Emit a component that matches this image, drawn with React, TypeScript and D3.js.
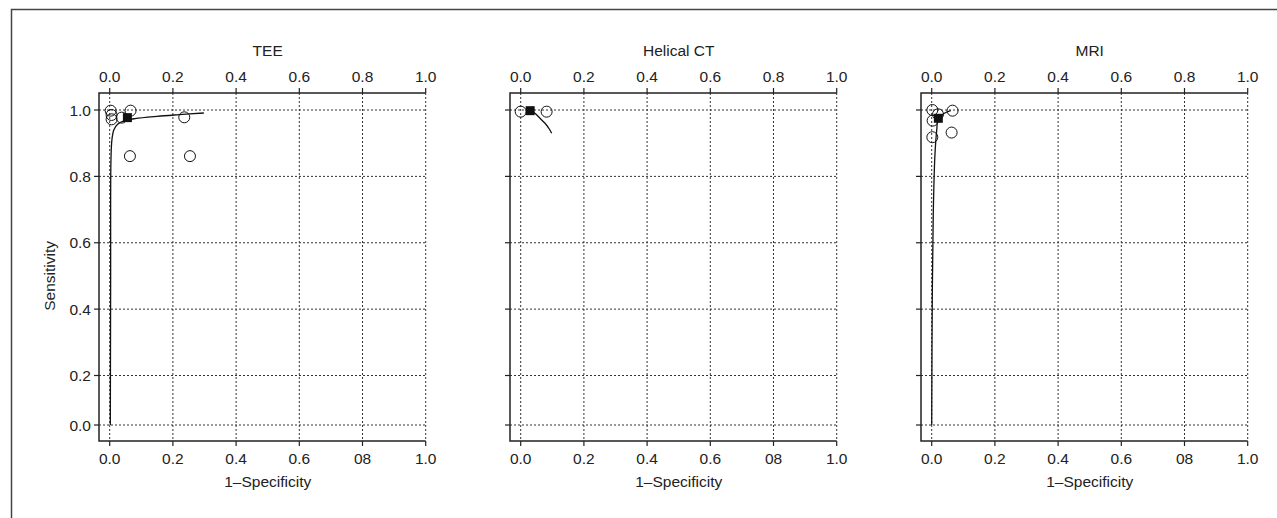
import { useRef, useEffect } from 'react';
import * as d3 from 'd3';

// panels
const panelTitles = ['TEE', 'Helical CT', 'MRI'];

// tick labels (the original bottom axis prints "08")
const tickValues = [0, 0.2, 0.4, 0.6, 0.8, 1.0];
const topTickLabels = ['0.0', '0.2', '0.4', '0.6', '0.8', '1.0'];
const bottomTickLabels = ['0.0', '0.2', '0.4', '0.6', '08', '1.0'];
const yTickLabels = ['0.0', '0.2', '0.4', '0.6', '0.8', '1.0'];

// study points [1-specificity, sensitivity]
const teeStudies = [
  [0.003, 0.998], [0.006, 0.985], [0.006, 0.972], [0.038, 0.977],
  [0.066, 0.998], [0.236, 0.978], [0.064, 0.861], [0.254, 0.861],
];
const ctStudies = [[0.0, 0.995], [0.082, 0.995]];
const mriStudies = [
  [0.002, 1.0], [0.066, 0.998], [0.003, 0.968], [0.002, 0.918],
  [0.063, 0.932], [0.02, 0.987],
];

// summary points
const teeSummary = [0.056, 0.977];
const ctSummary = [0.03, 0.998];
const mriSummary = [0.021, 0.975];

// SROC curves
const teeCurve = [
  [0.002, 0.0], [0.003, 0.5], [0.004, 0.85], [0.007, 0.91], [0.013, 0.94],
  [0.025, 0.957], [0.045, 0.967], [0.08, 0.974], [0.15, 0.981],
  [0.22, 0.986], [0.298, 0.991],
];
const ctCurve = [
  [0.03, 0.998], [0.045, 0.99], [0.061, 0.975], [0.077, 0.96],
  [0.091, 0.942], [0.098, 0.93],
];
const mriCurve = [
  [0.0, 0.0], [0.002, 0.46], [0.005, 0.69], [0.01, 0.86], [0.016, 0.94],
  [0.021, 0.975], [0.04, 0.99], [0.06, 0.998],
];

const panels = [
  { title: panelTitles[0], studies: teeStudies, summary: teeSummary, curve: teeCurve },
  { title: panelTitles[1], studies: ctStudies, summary: ctSummary, curve: ctCurve },
  { title: panelTitles[2], studies: mriStudies, summary: mriSummary, curve: mriCurve },
];

const FONT = '"Liberation Sans", Arial, sans-serif';

export default function App() {
  const ref = useRef<SVGSVGElement>(null);

  useEffect(() => {
    const width = 1277;
    const height = 518;
    const svg = d3.select(ref.current);
    svg.selectAll('*').remove();
    svg.attr('width', width).attr('height', height);

    // outer frame (top + left only)
    svg.append('path')
      .attr('d', `M11.5,${height} L11.5,9.5 L${width},9.5`)
      .attr('fill', 'none')
      .attr('stroke', '#444')
      .attr('stroke-width', 1.5);

    const boxTop = 93;
    const boxBottom = 441;
    // the printed y axis is slightly compressed below 0.2
    const y = d3.scaleLinear().domain([0, 0.2, 1]).range([425, 375.5, 110]);

    panels.forEach((p, i) => {
      const x0 = 109.7 + i * 411;
      const x = d3.scaleLinear().domain([0, 1]).range([x0, x0 + 316]);
      const boxLeft = x0 - 10.7;
      const g = svg.append('g');

      // grid
      g.selectAll('line.vgrid')
        .data(tickValues)
        .join('line')
        .attr('class', 'vgrid')
        .attr('x1', (d) => x(d)).attr('x2', (d) => x(d))
        .attr('y1', boxTop).attr('y2', boxBottom)
        .attr('stroke', '#333').attr('stroke-width', 1)
        .attr('stroke-dasharray', '2,2');
      g.selectAll('line.hgrid')
        .data(tickValues)
        .join('line')
        .attr('class', 'hgrid')
        .attr('x1', boxLeft).attr('x2', x(1))
        .attr('y1', (d) => y(d)).attr('y2', (d) => y(d))
        .attr('stroke', '#333').attr('stroke-width', 1)
        .attr('stroke-dasharray', '2,2');

      // box: left, top and bottom
      g.append('path')
        .attr('d', `M${x(1)},${boxTop} L${boxLeft},${boxTop} L${boxLeft},${boxBottom} L${x(1)},${boxBottom}`)
        .attr('fill', 'none')
        .attr('stroke', '#222')
        .attr('stroke-width', 1.5);

      // ticks
      g.selectAll('line.ttick')
        .data(tickValues)
        .join('line')
        .attr('class', 'ttick')
        .attr('x1', (d) => x(d)).attr('x2', (d) => x(d))
        .attr('y1', boxTop - 5).attr('y2', boxTop)
        .attr('stroke', '#222').attr('stroke-width', 1.2);
      g.selectAll('line.btick')
        .data(tickValues)
        .join('line')
        .attr('class', 'btick')
        .attr('x1', (d) => x(d)).attr('x2', (d) => x(d))
        .attr('y1', boxBottom).attr('y2', boxBottom + 5)
        .attr('stroke', '#222').attr('stroke-width', 1.2);
      g.selectAll('line.ytick')
        .data(tickValues)
        .join('line')
        .attr('class', 'ytick')
        .attr('x1', boxLeft - 5).attr('x2', boxLeft)
        .attr('y1', (d) => y(d)).attr('y2', (d) => y(d))
        .attr('stroke', '#222').attr('stroke-width', 1.2);

      const txt = (sel) => sel.attr('font-family', FONT).attr('font-size', 15.5).attr('fill', '#222');

      g.selectAll('text.tlab')
        .data(tickValues)
        .join('text')
        .attr('class', 'tlab')
        .attr('x', (d) => x(d)).attr('y', 81.5)
        .attr('text-anchor', 'middle')
        .text((_, k) => topTickLabels[k])
        .call(txt);
      g.selectAll('text.blab')
        .data(tickValues)
        .join('text')
        .attr('class', 'blab')
        .attr('x', (d) => x(d)).attr('y', 463.5)
        .attr('text-anchor', 'middle')
        .text((_, k) => bottomTickLabels[k])
        .call(txt);

      if (i === 0) {
        g.selectAll('text.ylab')
          .data(tickValues)
          .join('text')
          .attr('class', 'ylab')
          .attr('x', boxLeft - 8).attr('y', (d) => y(d))
          .attr('dy', '0.36em')
          .attr('text-anchor', 'end')
          .text((_, k) => yTickLabels[k])
          .call(txt);
        g.append('text')
          .attr('transform', `translate(55,${y(0.5)}) rotate(-90)`)
          .attr('text-anchor', 'middle')
          .text('Sensitivity')
          .call(txt);
      }

      g.append('text')
        .attr('x', x(0.5)).attr('y', 55.5)
        .attr('text-anchor', 'middle')
        .text(p.title)
        .call(txt);
      g.append('text')
        .attr('x', x(0.5)).attr('y', 486.5)
        .attr('text-anchor', 'middle')
        .text('1\u2013Specificity')
        .call(txt);

      // SROC curve
      const line = d3.line().x((d) => x(d[0])).y((d) => y(d[1])).curve(d3.curveCatmullRom);
      g.append('path')
        .attr('d', line(p.curve))
        .attr('fill', 'none')
        .attr('stroke', '#111')
        .attr('stroke-width', 1.3);

      // studies
      g.selectAll('circle')
        .data(p.studies)
        .join('circle')
        .attr('cx', (d) => x(d[0]))
        .attr('cy', (d) => y(d[1]))
        .attr('r', 5.5)
        .attr('fill', 'none')
        .attr('stroke', '#111')
        .attr('stroke-width', 1);

      // summary point
      g.append('rect')
        .attr('x', x(p.summary[0]) - 4.5)
        .attr('y', y(p.summary[1]) - 4.5)
        .attr('width', 9)
        .attr('height', 9)
        .attr('fill', '#111');
    });
  }, []);

  return <svg ref={ref} style={{ position: 'absolute', left: 0, top: 0 }} />;
}
